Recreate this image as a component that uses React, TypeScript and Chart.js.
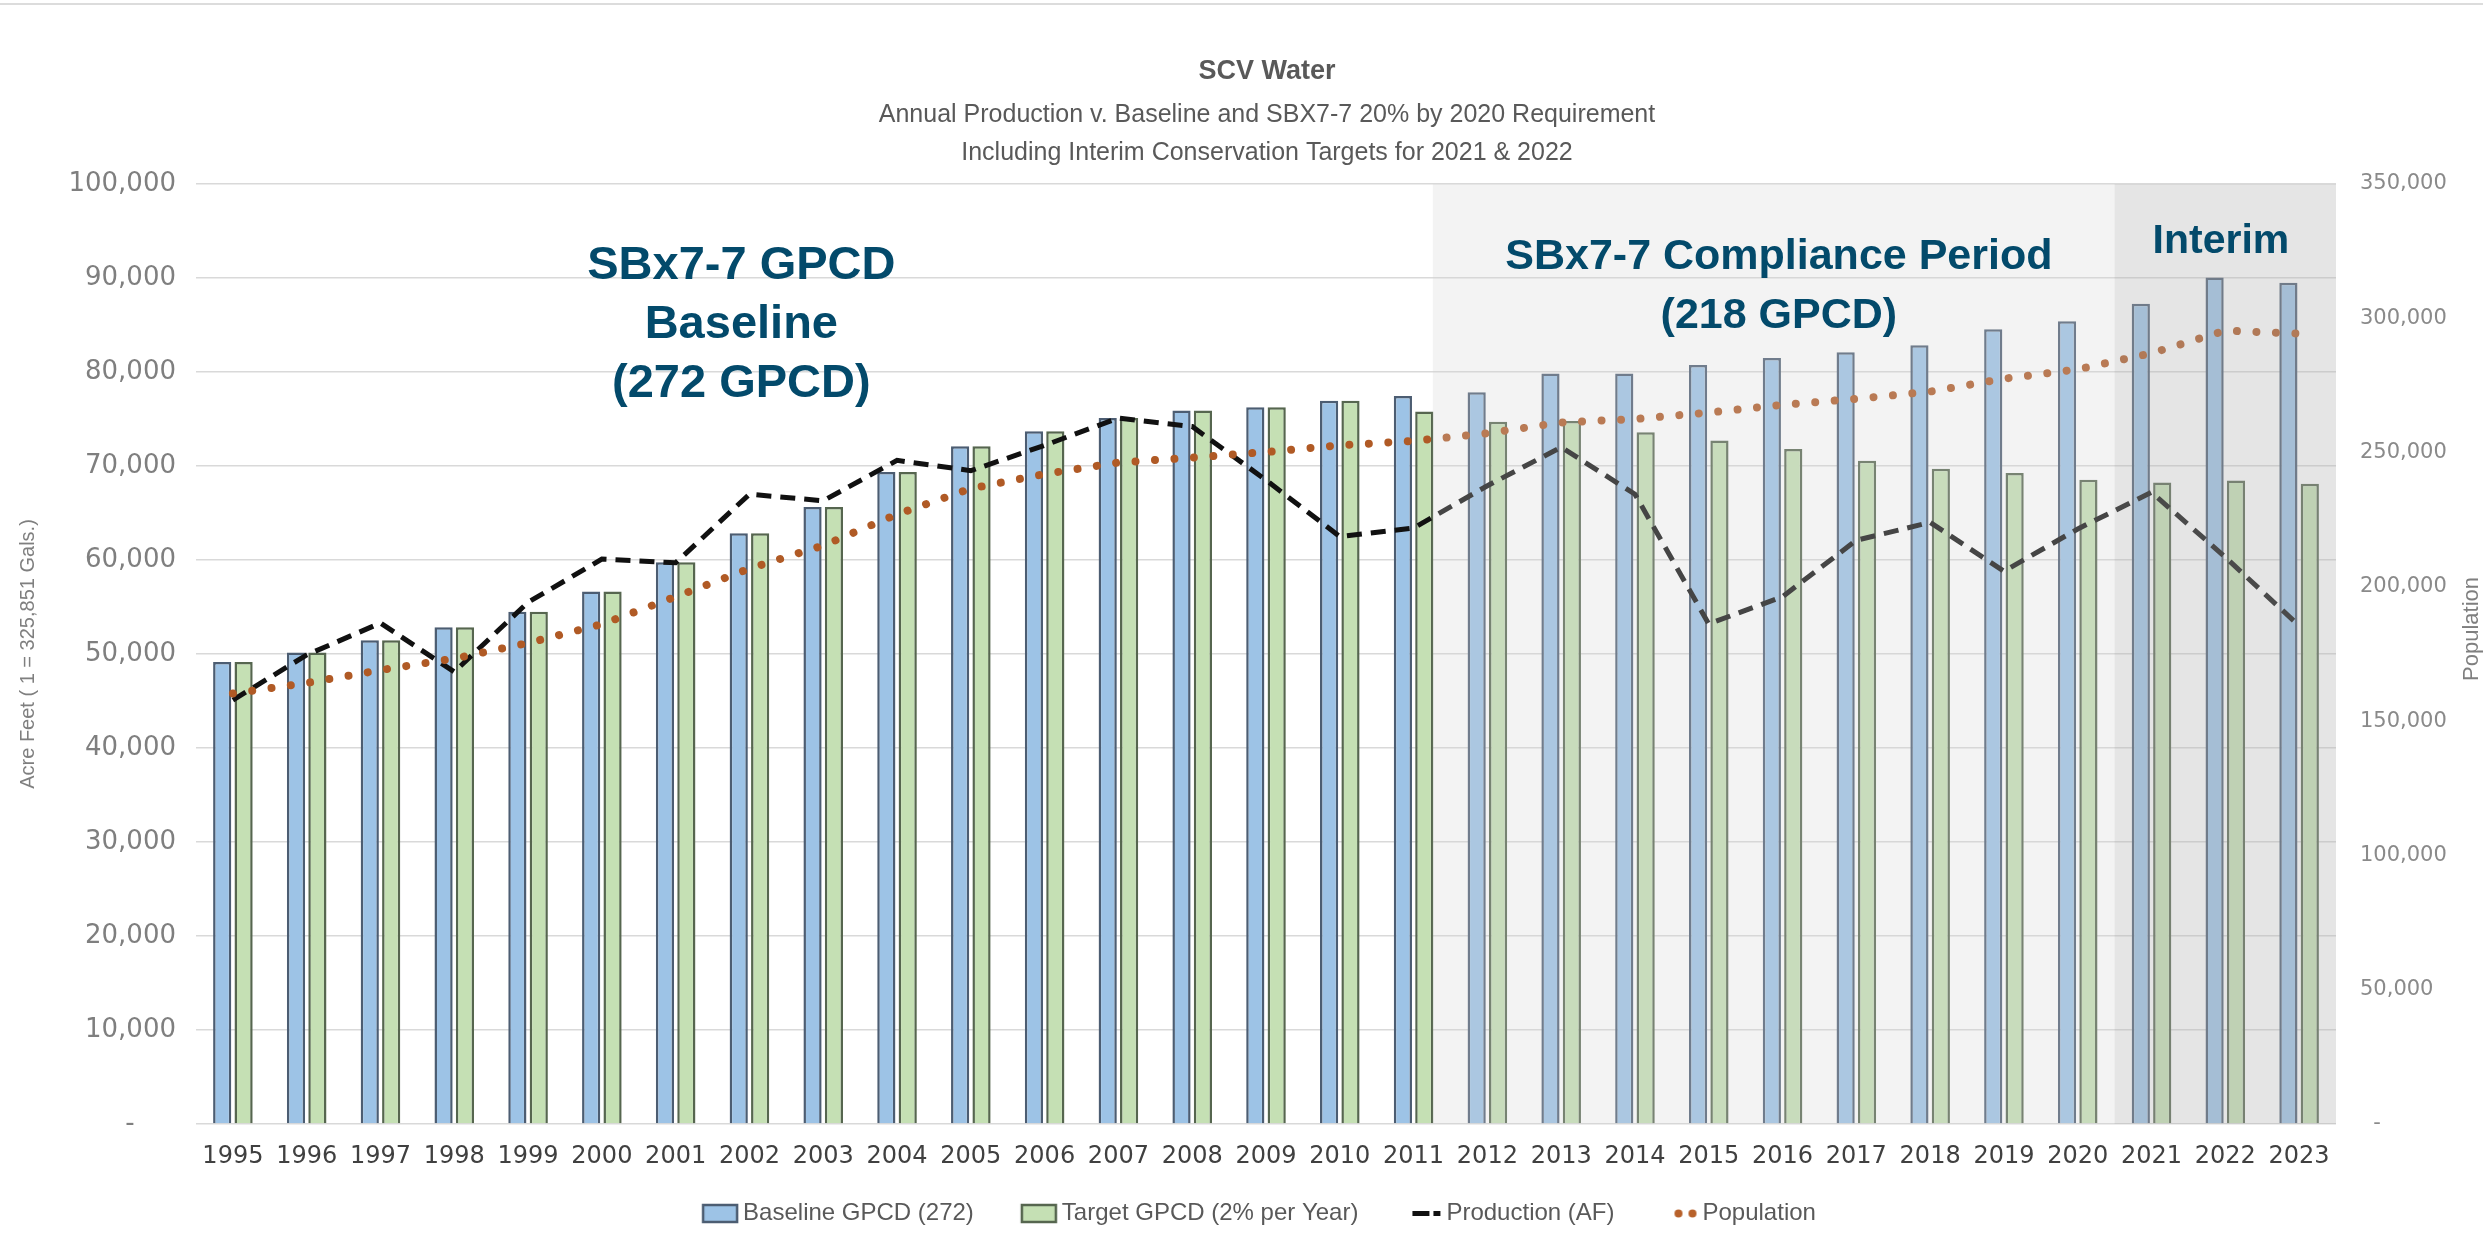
import React, { useEffect, useRef } from 'react';
import { Chart, registerables } from 'chart.js';

Chart.register(...registerables);

// ---------- DATA ----------
const years = [
  '1995', '1996', '1997', '1998', '1999', '2000', '2001', '2002', '2003', '2004',
  '2005', '2006', '2007', '2008', '2009', '2010', '2011', '2012', '2013', '2014',
  '2015', '2016', '2017', '2018', '2019', '2020', '2021', '2022', '2023',
];
const baselineGPCD = [
  49150, 50150, 51450, 52850, 54500, 56650, 59750, 62850, 65650, 69350,
  72100, 73700, 75100, 75900, 76250, 76950, 77450, 77850, 79850, 79850,
  80750, 81500, 82100, 82850, 84550, 85400, 87250, 90050, 89500,
];
const targetGPCD = [
  49150, 50150, 51450, 52850, 54500, 56650, 59750, 62850, 65650, 69350,
  72100, 73700, 75100, 75900, 76250, 76950, 75800, 74700, 74800, 73600,
  72700, 71800, 70550, 69700, 69250, 68550, 68250, 68450, 68100,
];
const productionAF = [
  45100, 49900, 53300, 48100, 55500, 60100, 59700, 67000, 66300, 70600,
  69500, 72200, 75100, 74200, 68500, 62500, 63400, 67900, 72000, 67000,
  53200, 56100, 62100, 64000, 58800, 63300, 67200, 60300, 53000,
];
const population = [
  160300, 164200, 169000, 173300, 179100, 186100, 196300, 206800, 215400, 227000,
  236600, 242000, 246300, 248100, 250200, 252700, 254300, 257200, 261200, 262500,
  264900, 267800, 270000, 272700, 277500, 281000, 287000, 295400, 294300,
];
const acreFeetTicks = [0, 10000, 20000, 30000, 40000, 50000, 60000, 70000, 80000, 90000, 100000];
const populationTicks = [0, 50000, 100000, 150000, 200000, 250000, 300000, 350000];
const seriesLabels = ['Baseline GPCD (272)', 'Target GPCD (2% per Year)', 'Production (AF)', 'Population'];
const titleText = 'SCV Water';
const subtitleLines = [
  'Annual Production v. Baseline and SBX7-7 20% by 2020 Requirement',
  'Including Interim Conservation Targets for 2021 & 2022',
];
const leftAxisTitle = 'Acre Feet ( 1 = 325,851 Gals.)';
const rightAxisTitle = 'Population';
const compliancePeriod = ['2012', '2020'];
const interimPeriod = ['2021', '2023'];
const baselineNote = ['SBx7-7 GPCD', 'Baseline', '(272 GPCD)'];
const complianceNote = ['SBx7-7 Compliance Period', '(218 GPCD)'];
const interimNote = ['Interim'];

// ---------- STYLE ----------
const W = 2483;
const H = 1239;
const SANS = "'Liberation Sans', Arial, sans-serif";
const TICK = "'DejaVu Sans', sans-serif";
const NOTE_COLOR = '#034a6b';

function fmt(v: number): string {
  return v.toLocaleString('en-US');
}

// Legend icons: image is 80px wide, centred on the legend box; the mark sits in its right part.
function makeIcon(kind: number): HTMLCanvasElement {
  const c = document.createElement('canvas');
  c.width = 80;
  c.height = 22;
  const g = c.getContext('2d')!;
  const x0 = 44;
  if (kind === 0 || kind === 1) {
    g.fillStyle = kind === 0 ? '#9dc3e6' : '#c5e0b4';
    g.fillRect(x0, 3, 34, 17);
    g.strokeStyle = kind === 0 ? '#4c5d72' : '#56664f';
    g.lineWidth = 2.5;
    g.strokeRect(x0, 3, 34, 17);
  } else if (kind === 2) {
    g.fillStyle = '#111111';
    g.fillRect(x0 + 6, 9, 17, 5);
    g.fillRect(x0 + 27, 9, 7, 5);
  } else {
    g.fillStyle = '#b8612a';
    g.beginPath();
    g.arc(x0 + 16, 11.5, 4, 0, Math.PI * 2);
    g.fill();
    g.beginPath();
    g.arc(x0 + 30, 11.5, 4, 0, Math.PI * 2);
    g.fill();
  }
  return c;
}

const backdropPlugin = {
  id: 'backdrop',
  beforeDraw(chart: any) {
    const { ctx } = chart;
    ctx.save();
    ctx.fillStyle = '#ffffff';
    ctx.fillRect(0, 0, chart.width, chart.height);
    ctx.fillStyle = '#dcdcdc';
    ctx.fillRect(0, 3, chart.width, 2);
    ctx.restore();
  },
};

const shadePlugin = {
  id: 'shade',
  afterDatasetsDraw(chart: any) {
    const { ctx, chartArea } = chart;
    const x = chart.scales.x;
    const cat = x.getPixelForValue(1) - x.getPixelForValue(0);
    const cStart = x.getPixelForValue(years.indexOf(compliancePeriod[0])) - 0.74 * cat;
    const cEnd = x.getPixelForValue(years.indexOf(compliancePeriod[1])) + 0.5 * cat;
    const iEnd = Math.min(chartArea.right, x.getPixelForValue(years.indexOf(interimPeriod[1])) + 0.5 * cat);
    const top = chartArea.top;
    const bottom = chartArea.bottom;
    ctx.save();
    ctx.fillStyle = 'rgba(211,211,211,0.27)';
    ctx.fillRect(cStart, top, cEnd - cStart, bottom - top);
    ctx.fillStyle = 'rgba(181,181,181,0.35)';
    ctx.fillRect(cEnd, top, iEnd - cEnd, bottom - top);
    ctx.restore();
  },
};

function drawLines(ctx: CanvasRenderingContext2D, lines: string[], cx: number, cy: number, step: number) {
  lines.forEach((t, i) => ctx.fillText(t, cx, cy + i * step));
}

const textPlugin = {
  id: 'texts',
  afterDraw(chart: any) {
    const { ctx, chartArea } = chart;
    const x = chart.scales.x;
    const y = chart.scales.y;
    ctx.save();
    ctx.textAlign = 'center';
    ctx.textBaseline = 'middle';
    // titles
    ctx.fillStyle = '#595959';
    ctx.font = `bold 27px ${SANS}`;
    ctx.fillText(titleText, 1267, 72);
    ctx.font = `25px ${SANS}`;
    drawLines(ctx, subtitleLines, 1267, 115, 38);
    // annotations
    ctx.fillStyle = NOTE_COLOR;
    ctx.font = `bold 47px ${SANS}`;
    drawLines(ctx, baselineNote, x.getPixelForValue(6.89), y.getPixelForValue(91300), 59);
    ctx.font = `bold 43px ${SANS}`;
    drawLines(ctx, complianceNote, x.getPixelForValue(20.95), y.getPixelForValue(92250), 59);
    ctx.font = `bold 41px ${SANS}`;
    drawLines(ctx, interimNote, x.getPixelForValue(26.94), y.getPixelForValue(93850), 58);
    // right axis title (reads bottom to top)
    ctx.fillStyle = '#7f7f7f';
    ctx.font = `22px ${SANS}`;
    ctx.translate(2472, (chartArea.top + chartArea.bottom) / 2 - 25);
    ctx.rotate(-Math.PI / 2);
    ctx.fillText(rightAxisTitle, 0, 0);
    ctx.restore();
  },
};

export default function App() {
  const ref = useRef<HTMLCanvasElement | null>(null);

  useEffect(() => {
    const canvas = ref.current;
    if (!canvas) return;
    const icons = [0, 1, 2, 3].map(makeIcon);
    const chart = new Chart(canvas, {
      type: 'bar',
      data: {
        labels: years,
        datasets: [
          {
            type: 'bar',
            label: seriesLabels[0],
            data: baselineGPCD,
            backgroundColor: '#9dc3e6',
            borderColor: '#4c5d72',
            borderWidth: 2.5,
            yAxisID: 'y',
            order: 2,
            categoryPercentage: 0.58,
            barPercentage: 0.85,
          },
          {
            type: 'bar',
            label: seriesLabels[1],
            data: targetGPCD,
            backgroundColor: '#c5e0b4',
            borderColor: '#56664f',
            borderWidth: 2.5,
            yAxisID: 'y',
            order: 2,
            categoryPercentage: 0.58,
            barPercentage: 0.85,
          },
          {
            type: 'line',
            label: seriesLabels[2],
            data: productionAF,
            borderColor: '#111111',
            borderWidth: 5,
            borderDash: [15, 9],
            pointRadius: 0,
            tension: 0,
            fill: false,
            yAxisID: 'y',
            order: 1,
          },
          {
            type: 'line',
            label: seriesLabels[3],
            data: population,
            borderColor: '#b05a25',
            borderWidth: 8,
            borderDash: [0.001, 19.5],
            borderCapStyle: 'round',
            pointRadius: 0,
            tension: 0,
            fill: false,
            yAxisID: 'y1',
            order: 0,
          },
        ] as any,
      },
      options: {
        responsive: false,
        maintainAspectRatio: false,
        animation: false,
        layout: { padding: { top: 184, bottom: 4, left: 0, right: 0 } },
        plugins: {
          title: { display: false },
          subtitle: { display: false },
          tooltip: { enabled: false },
          legend: {
            display: true,
            position: 'bottom',
            labels: {
              usePointStyle: true,
              pointStyleWidth: 64,
              boxHeight: 24,
              padding: 12,
              color: '#595959',
              font: { family: SANS, size: 24 },
              generateLabels: (ch: any) =>
                ch.data.datasets.map((ds: any, i: number) => ({
                  text: ds.label,
                  pointStyle: icons[i],
                  fillStyle: 'rgba(0,0,0,0)',
                  strokeStyle: 'rgba(0,0,0,0)',
                  lineWidth: 0,
                  hidden: false,
                  datasetIndex: i,
                  fontColor: '#595959',
                })),
            },
          },
        },
        scales: {
          x: {
            grid: { display: false, drawTicks: false },
            border: { display: false },
            ticks: {
              color: '#404040',
              font: { family: TICK, size: 24 },
              padding: 18,
              maxRotation: 0,
              autoSkip: false,
            },
            afterFit: (s: any) => {
              s.height = 65;
            },
          },
          y: {
            position: 'left',
            min: 0,
            max: 100000,
            afterBuildTicks: (s: any) => {
              s.ticks = acreFeetTicks.map((v) => ({ value: v }));
            },
            grid: { color: '#d9d9d9', lineWidth: 1.5, drawTicks: false },
            border: { display: false },
            ticks: {
              color: '#7f7f7f',
              font: { family: TICK, size: 26 },
              padding: 20,
              callback: (v: any) => (v === 0 ? '-     ' : fmt(v)),
            },
            title: {
              display: true,
              text: leftAxisTitle,
              color: '#7f7f7f',
              font: { family: SANS, size: 20 },
              padding: { top: 16, bottom: 0 },
            },
            afterFit: (s: any) => {
              s.width = 196;
            },
          },
          y1: {
            position: 'right',
            min: 0,
            max: 350000,
            afterBuildTicks: (s: any) => {
              s.ticks = populationTicks.map((v) => ({ value: v }));
            },
            grid: { drawOnChartArea: false, drawTicks: false },
            border: { display: false },
            ticks: {
              color: '#8a8a8a',
              font: { family: TICK, size: 21 },
              padding: 24,
              callback: (v: any) => (v === 0 ? '  -' : fmt(v)),
            },
            afterFit: (s: any) => {
              s.width = W - 2336;
            },
          },
        },
      } as any,
      plugins: [backdropPlugin, shadePlugin, textPlugin],
    });
    return () => chart.destroy();
  }, []);

  return (
    <div style={{ position: 'fixed', left: 0, top: 0, width: W, height: H, background: '#fff' }}>
      <canvas ref={ref} width={W} height={H} style={{ display: 'block', width: W, height: H }} />
    </div>
  );
}
